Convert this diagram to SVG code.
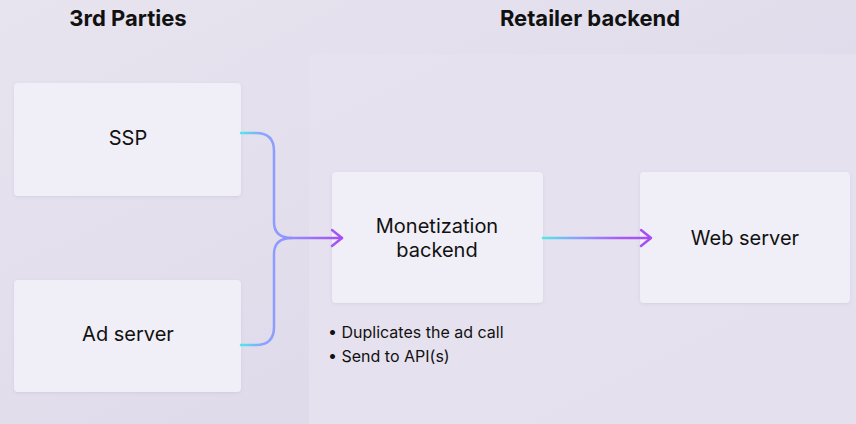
<svg xmlns="http://www.w3.org/2000/svg" width="856" height="424" viewBox="0 0 856 424">
<defs>
<linearGradient id="bg" x1="0" y1="0" x2="1" y2="1">
<stop offset="0" stop-color="#e7e4ef"/>
<stop offset="1" stop-color="#dcd6e8"/>
</linearGradient>
<linearGradient id="g1" gradientUnits="userSpaceOnUse" x1="241" y1="0" x2="343" y2="0">
<stop offset="0" stop-color="#4fe8e8"/>
<stop offset="0.2" stop-color="#88a6ff"/>
<stop offset="0.4" stop-color="#8f98ff"/>
<stop offset="1" stop-color="#a64cf6"/>
</linearGradient>
<linearGradient id="g2" gradientUnits="userSpaceOnUse" x1="543" y1="0" x2="652" y2="0">
<stop offset="0" stop-color="#4fe8e8"/>
<stop offset="0.35" stop-color="#8f98ff"/>
<stop offset="0.7" stop-color="#a95bf6"/>
<stop offset="1" stop-color="#a64cf6"/>
</linearGradient>
<filter id="sh" x="-10%" y="-10%" width="120%" height="130%">
<feDropShadow dx="0" dy="1" stdDeviation="1.5" flood-color="#8a80a8" flood-opacity="0.18"/>
</filter>
</defs>
<style>
.box{fill:#f0eef6;filter:url(#sh)}
.lbl{font-family:Inter,"Liberation Sans",sans-serif;font-size:20px;fill:#111;text-anchor:middle}
.hdr{font-family:Inter,"Liberation Sans",sans-serif;font-size:22px;font-weight:bold;fill:#111;text-anchor:middle}
.note{font-family:Inter,"Liberation Sans",sans-serif;font-size:16px;fill:#111}
.con{fill:none;stroke-width:2.5;stroke-linecap:round;stroke-linejoin:round}
</style>
<rect width="856" height="424" fill="url(#bg)"/>
<rect x="309" y="54" width="560" height="390" rx="6" fill="#e6e2ef" opacity="0.85"/>
<text class="hdr" x="128" y="26">3rd Parties</text>
<text class="hdr" x="590" y="26">Retailer backend</text>
<g id="ssp">
<rect class="box" x="14" y="83" width="227" height="113" rx="4"/>
<text class="lbl" x="128" y="145">SSP</text>
</g>
<g id="adserver">
<rect class="box" x="14" y="280" width="227" height="112" rx="4"/>
<text class="lbl" x="128" y="341">Ad server</text>
</g>
<g id="monetization">
<rect class="box" x="332" y="172" width="211" height="131" rx="4"/>
<text class="lbl" x="437" y="233">Monetization</text>
<text class="lbl" x="437" y="257">backend</text>
</g>
<g id="webserver">
<rect class="box" x="640" y="172" width="210" height="131" rx="4"/>
<text class="lbl" x="745" y="245">Web server</text>
</g>
<g id="notes">
<text class="note" x="328" y="338">• Duplicates the ad call</text>
<text class="note" x="328" y="362">• Send to API(s)</text>
</g>
<g id="connectors">
<path class="con" stroke="url(#g1)" d="M241 133 H256 Q274 133 274 151 V222 Q274 238 292 238"/>
<path class="con" stroke="url(#g1)" d="M241 345 H256 Q274 345 274 327 V254 Q274 238 292 238 H342"/>
<path class="con" stroke="url(#g1)" d="M332 230 L342 238 L332 246"/>
<path class="con" stroke="url(#g2)" d="M543 238 H650"/>
<path class="con" stroke="url(#g2)" d="M641 230 L651 238 L641 246"/>
</g>
</svg>
